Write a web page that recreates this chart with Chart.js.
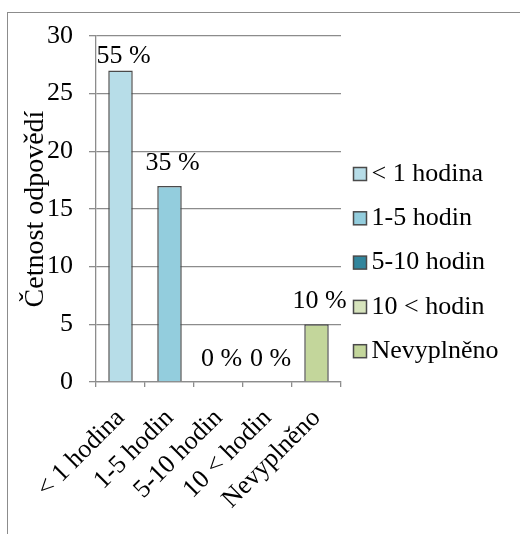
<!DOCTYPE html>
<html>
<head>
<meta charset="utf-8">
<script src="https://cdn.jsdelivr.net/npm/chart.js@4/dist/chart.umd.min.js"></script>
<style>
  html, body { margin: 0; padding: 0; background: #fff; overflow: hidden; }
  #frame {
    position: absolute; left: 7px; top: 12px;
    width: 700px; height: 700px;
    border: 1.5px solid #8c8c8c;
  }
  #wrap { position: absolute; left: 0; top: 0; width: 520px; height: 534px; }
</style>
</head>
<body>
<div id="frame"></div>
<div id="wrap"><canvas id="c" width="520" height="534"></canvas></div>
<script>
// Time spent – number of answers per category, with share in percent
const categories = ['< 1 hodina', '1-5 hodin', '5-10 hodin', '10 < hodin', 'Nevyplněno'];
const counts = [27, 17, 0, 0, 5];
const shares = [55, 35, 0, 0, 10];
const yTicks = [0, 5, 10, 15, 20, 25, 30];
const barColors = ['#b7dde8', '#93cddd', '#31859c', '#d7e4bd', '#c3d69b'];
const axisTitle = 'Četnost odpovědí';

const FONT = '"Liberation Serif", "Times New Roman", serif';
const FS = 26;

// Percent labels above each bar
const shareLabels = {
  id: 'shareLabels',
  afterDatasetsDraw(chart) {
    const { ctx, chartArea } = chart;
    const meta = chart.getDatasetMeta(0);
    ctx.save();
    ctx.font = FS + 'px ' + FONT;
    ctx.fillStyle = '#000';
    ctx.textAlign = 'center';
    ctx.textBaseline = 'alphabetic';
    meta.data.forEach((bar, i) => {
      const y = Math.max(bar.y - 16, chartArea.top + 27);
      ctx.fillText(shares[i] + ' %', bar.x + 3, y);
    });
    ctx.restore();
  }
};

// Legend: one square per category, stacked on the right
const sideLegend = {
  id: 'sideLegend',
  afterDraw(chart) {
    const { ctx, chartArea } = chart;
    const boxX = chartArea.right + 12.5;
    const size = 13;
    const step = 44.3;
    const firstY = 174;
    ctx.save();
    ctx.font = FS + 'px ' + FONT;
    ctx.textAlign = 'left';
    ctx.textBaseline = 'middle';
    categories.forEach((name, i) => {
      const cy = firstY + i * step;
      ctx.fillStyle = barColors[i];
      ctx.fillRect(boxX, cy - size / 2, size, size);
      ctx.strokeStyle = '#4a4a4a';
      ctx.lineWidth = 1.5;
      ctx.strokeRect(boxX, cy - size / 2, size, size);
      ctx.fillStyle = '#000';
      ctx.fillText(name, boxX + size + 5, cy);
    });
    ctx.restore();
  }
};

new Chart(document.getElementById('c'), {
  type: 'bar',
  data: {
    labels: categories,
    datasets: [{
      data: counts,
      backgroundColor: barColors,
      borderColor: '#4a4a4a',
      borderWidth: 1.5,
      barPercentage: 0.5,
      categoryPercentage: 1.0
    }]
  },
  options: {
    responsive: false,
    animation: false,
    layout: { padding: { top: 36, right: 179, left: 0, bottom: 0 } },
    plugins: {
      legend: { display: false },
      tooltip: { enabled: false }
    },
    scales: {
      x: {
        afterFit(scale) { scale.height = 152; },
        grid: { drawOnChartArea: false, drawTicks: true, tickLength: 5, color: '#8c8c8c', lineWidth: 1.3 },
        border: { color: '#8c8c8c', width: 1.3 },
        ticks: {
          color: '#000',
          font: { family: FONT, size: FS },
          minRotation: 45, maxRotation: 45,
          padding: 16,
          autoSkip: false
        }
      },
      y: {
        min: 0, max: 30,
        afterFit(scale) { scale.width = 96; },
        afterBuildTicks(scale) { scale.ticks = yTicks.map(v => ({ value: v })); },
        grid: { color: '#8c8c8c', lineWidth: 1.3, tickLength: 7 },
        border: { color: '#8c8c8c', width: 1.3 },
        ticks: {
          color: '#000',
          font: { family: FONT, size: FS },
          padding: 16
        },
        title: {
          display: true,
          text: axisTitle,
          color: '#000',
          font: { family: FONT, size: 28 },
          padding: { top: 19, bottom: 0 }
        }
      }
    }
  },
  plugins: [shareLabels, sideLegend]
});
</script>
</body>
</html>
